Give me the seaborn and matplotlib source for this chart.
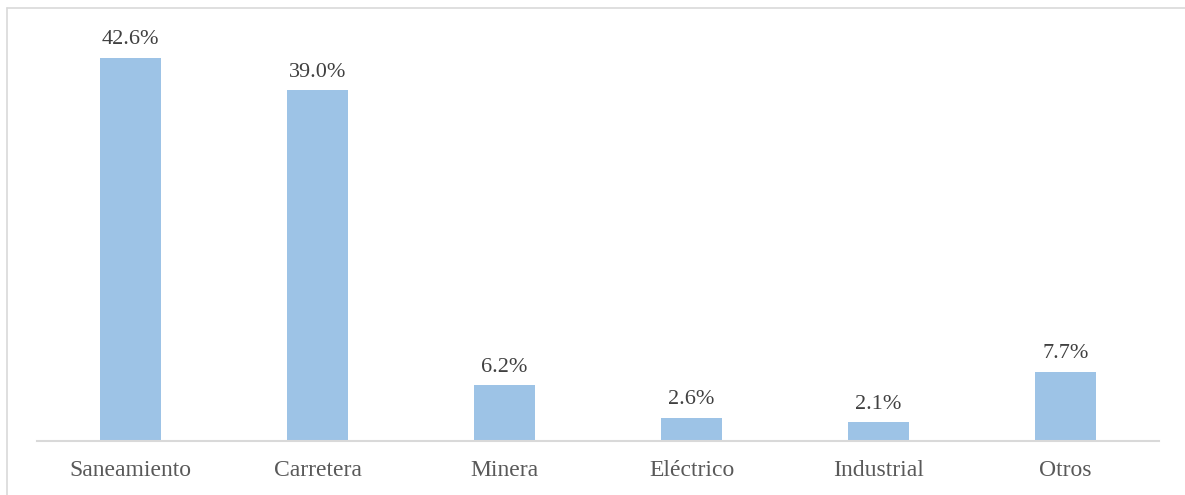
import matplotlib
matplotlib.use("Agg")
import matplotlib.pyplot as plt
from matplotlib.lines import Line2D
import seaborn as sns
import pandas as pd

categories = ["Saneamiento", "Carretera", "Minera", "Eléctrico", "Industrial", "Otros"]
shares = [42.6, 39.0, 6.2, 2.6, 2.1, 7.7]

df = pd.DataFrame({"sector": categories, "share": shares})

sns.set_theme(style="white")
plt.rcParams["font.family"] = ["Liberation Serif", "DejaVu Serif"]

fig = plt.figure(figsize=(11.85, 4.95), dpi=100)
ax = fig.add_axes([37 / 1185, 54 / 495, 1122 / 1185, 405 / 495])

sns.barplot(data=df, x="sector", y="share", color="#9dc3e6", saturation=1,
            width=0.325, linewidth=0, ax=ax)

ax.set_xlim(-0.5, len(categories) - 0.5)
ax.set_ylim(0, 45)
ax.set_xlabel("")
ax.set_ylabel("")
ax.set_yticks([])

for side in ["top", "right", "left"]:
    ax.spines[side].set_visible(False)
ax.spines["bottom"].set_color("#d9d9d9")
ax.spines["bottom"].set_linewidth(1.5)

ax.tick_params(axis="x", length=0, pad=14, labelsize=17, labelcolor="#595959")

for container in ax.containers:
    ax.bar_label(container, labels=[f"{v:.1f}%" for v in shares],
                 padding=6, fontsize=16, color="#404040")

# thin frame on the left and top of the figure
fig.add_artist(Line2D([7 / 1185, 7 / 1185], [0, 1 - 8 / 495],
                      transform=fig.transFigure, color="#d9d9d9", linewidth=1.2))
fig.add_artist(Line2D([7 / 1185, 1], [1 - 8 / 495, 1 - 8 / 495],
                      transform=fig.transFigure, color="#d9d9d9", linewidth=1.2))

fig.savefig("out.png", dpi=100, facecolor="white")
